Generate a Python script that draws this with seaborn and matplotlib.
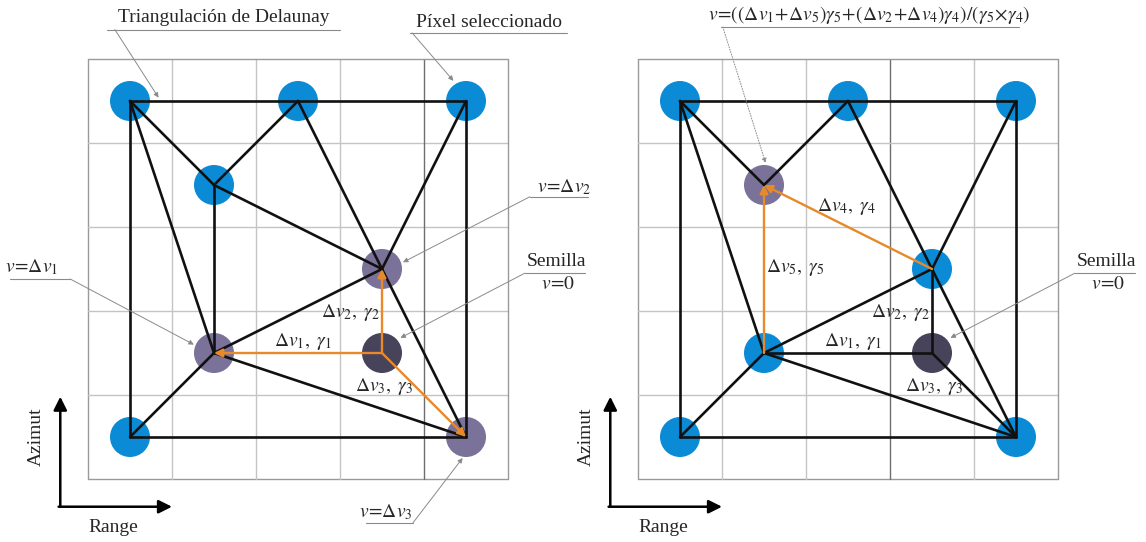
import matplotlib
matplotlib.use("Agg")
import matplotlib.pyplot as plt
import seaborn as sns
import pandas as pd

# nodes of the Delaunay triangulation (grid cell centres)
node_x = [0.5, 2.5, 4.5, 1.5, 3.5, 1.5, 3.5, 0.5, 4.5]
node_y = [4.5, 4.5, 4.5, 3.5, 2.5, 1.5, 1.5, 0.5, 0.5]
kind_left = ["pixel", "pixel", "pixel", "pixel", "visitado", "visitado", "semilla", "pixel", "visitado"]
kind_right = ["pixel", "pixel", "pixel", "visitado", "pixel", "pixel", "semilla", "pixel", "pixel"]

# triangle edges (node index pairs)
edges = [(0, 1), (1, 2), (0, 7), (2, 8), (7, 8), (0, 3), (3, 1), (0, 5), (3, 5),
         (3, 4), (1, 4), (2, 4), (4, 5), (4, 8), (5, 8), (5, 7)]
seed_edges = [(6, 5), (6, 4), (6, 8)]
orange_left = [(6, 5), (6, 4), (6, 8)]
orange_right = [(5, 3), (4, 3)]

palette = {"pixel": "#0b8bd5", "visitado": "#7a7299", "semilla": "#46435a"}
ORANGE = "#e8892a"

sns.set_style("white")
plt.rcParams["font.family"] = ["Liberation Serif", "DejaVu Serif"]
plt.rcParams["mathtext.fontset"] = "stix"

fig = plt.figure(figsize=(11.46, 5.42), dpi=100)
ax_l = fig.add_axes([0, 0, 550 / 1146, 1])
ax_r = fig.add_axes([550 / 1146, 0, 550 / 1146, 1])

FS = 14
lead = dict(arrowstyle="-|>", color="#8a8a8a", lw=0.7, mutation_scale=7,
            shrinkA=0, shrinkB=0)
EQ = r"\!=\!"


def label(ax, text, pos, line=None, target=None, style="-"):
    ax.text(pos[0], pos[1], text, fontsize=FS, ha="center", va="center")
    if line is not None:
        x0, x1, yl = line
        ax.plot([x0, x1], [yl, yl], color="#8a8a8a", lw=0.8, clip_on=False, zorder=5)
    if target is not None:
        props = dict(lead, linestyle=style)
        ax.annotate("", xy=target[1], xytext=target[0], arrowprops=props, zorder=5)


def panel(ax, kinds, orange, black, dark_col):
    # grid
    for i in range(6):
        c = "#9a9a9a" if i in (0, 5) else "#c4c4c4"
        ax.plot([0, 5], [i, i], color=c, lw=1, zorder=1)
        cv = "#6e6e6e" if i == dark_col else c
        ax.plot([i, i], [0, 5], color=cv, lw=1, zorder=1)

    df = pd.DataFrame({"x": node_x, "y": node_y, "tipo": kinds})
    sns.scatterplot(data=df, x="x", y="y", hue="tipo", palette=palette, s=830,
                    edgecolor="none", legend=False, ax=ax, zorder=2)

    for a, b in black:
        ax.plot([node_x[a], node_x[b]], [node_y[a], node_y[b]], color="#111111",
                lw=1.9, zorder=3, solid_capstyle="round")
    for a, b in orange:
        ax.annotate("", xy=(node_x[b], node_y[b]), xytext=(node_x[a], node_y[a]),
                    arrowprops=dict(arrowstyle="-|>", color=ORANGE, lw=1.7,
                                    mutation_scale=12, shrinkA=0, shrinkB=0), zorder=4)

    # edge labels shared by both panels
    ax.text(3.13, 1.98, r"$\Delta v_2,\ \gamma_2$", fontsize=FS, ha="center", va="center")
    ax.text(2.56, 1.64, r"$\Delta v_1,\ \gamma_1$", fontsize=FS, ha="center", va="center")
    ax.text(3.53, 1.10, r"$\Delta v_3,\ \gamma_3$", fontsize=FS, ha="center", va="center")

    # seed label
    ax.text(5.58, 2.59, "Semilla", fontsize=FS, ha="center", va="center")
    ax.text(5.60, 2.31, r"$v" + EQ + "0$", fontsize=FS, ha="center", va="center")
    label(ax, "", (5.58, 2.59), line=(5.20, 5.92, 2.45),
          target=((5.20, 2.45), (3.72, 1.68)))

    # Azimut / Range axes arrows
    ax.annotate("", xy=(-0.33, 0.98), xytext=(-0.33, -0.33),
                arrowprops=dict(arrowstyle="-|>", color="k", lw=1.8,
                                mutation_scale=20, shrinkA=0, shrinkB=0))
    ax.annotate("", xy=(1.0, -0.33), xytext=(-0.35, -0.33),
                arrowprops=dict(arrowstyle="-|>", color="k", lw=1.8,
                                mutation_scale=20, shrinkA=0, shrinkB=0))
    ax.text(-0.61, 0.50, "Azimut", fontsize=FS, rotation=90, ha="center", va="center")
    ax.text(0.30, -0.58, "Range", fontsize=FS, ha="center", va="center")

    ax.set_xlim(-88 / 84, 462 / 84)
    ax.set_ylim(-63 / 84, 479 / 84)
    ax.set_axis_off()


black_left = edges
black_right = [e for e in edges if e not in [(3, 5), (3, 4)]] + seed_edges

panel(ax_l, kind_left, orange_left, black_left, 4)
panel(ax_r, kind_right, orange_right, black_right, 3)

# left panel call-outs
label(ax_l, "Triangulación de Delaunay", (1.62, 5.50), line=(0.23, 3.00, 5.35),
      target=((0.32, 5.35), (0.84, 4.54)))
label(ax_l, "Píxel seleccionado", (4.77, 5.43), line=(3.83, 5.70, 5.31),
      target=((3.86, 5.31), (4.35, 4.74)))
label(ax_l, r"$v" + EQ + r"\Delta v_2$", (5.67, 3.48), line=(5.26, 5.95, 3.36),
      target=((5.26, 3.36), (3.75, 2.58)))
label(ax_l, r"$v" + EQ + r"\Delta v_1$", (-0.67, 2.52), line=(-0.93, -0.21, 2.38),
      target=((-0.21, 2.38), (1.26, 1.60)))
label(ax_l, r"$v" + EQ + r"\Delta v_3$", (3.54, -0.40), line=(3.31, 3.87, -0.52),
      target=((3.87, -0.52), (4.46, 0.25)))

# right panel call-outs
formula = (r"$v" + EQ + r"((\Delta v_1\!+\!\Delta v_5)\gamma_5\!+\!(\Delta v_2\!+\!\Delta v_4)"
           r"\gamma_4)/(\gamma_5\!\times\!\gamma_4)$")
label(ax_r, formula, (2.75, 5.52), line=(0.99, 4.53, 5.38),
      target=((1.01, 5.38), (1.52, 3.76)), style=":")
ax_r.text(2.49, 3.24, r"$\Delta v_4,\ \gamma_4$", fontsize=FS, ha="center", va="center")
ax_r.text(1.87, 2.52, r"$\Delta v_5,\ \gamma_5$", fontsize=FS, ha="center", va="center")

fig.savefig("out.png", dpi=100)
